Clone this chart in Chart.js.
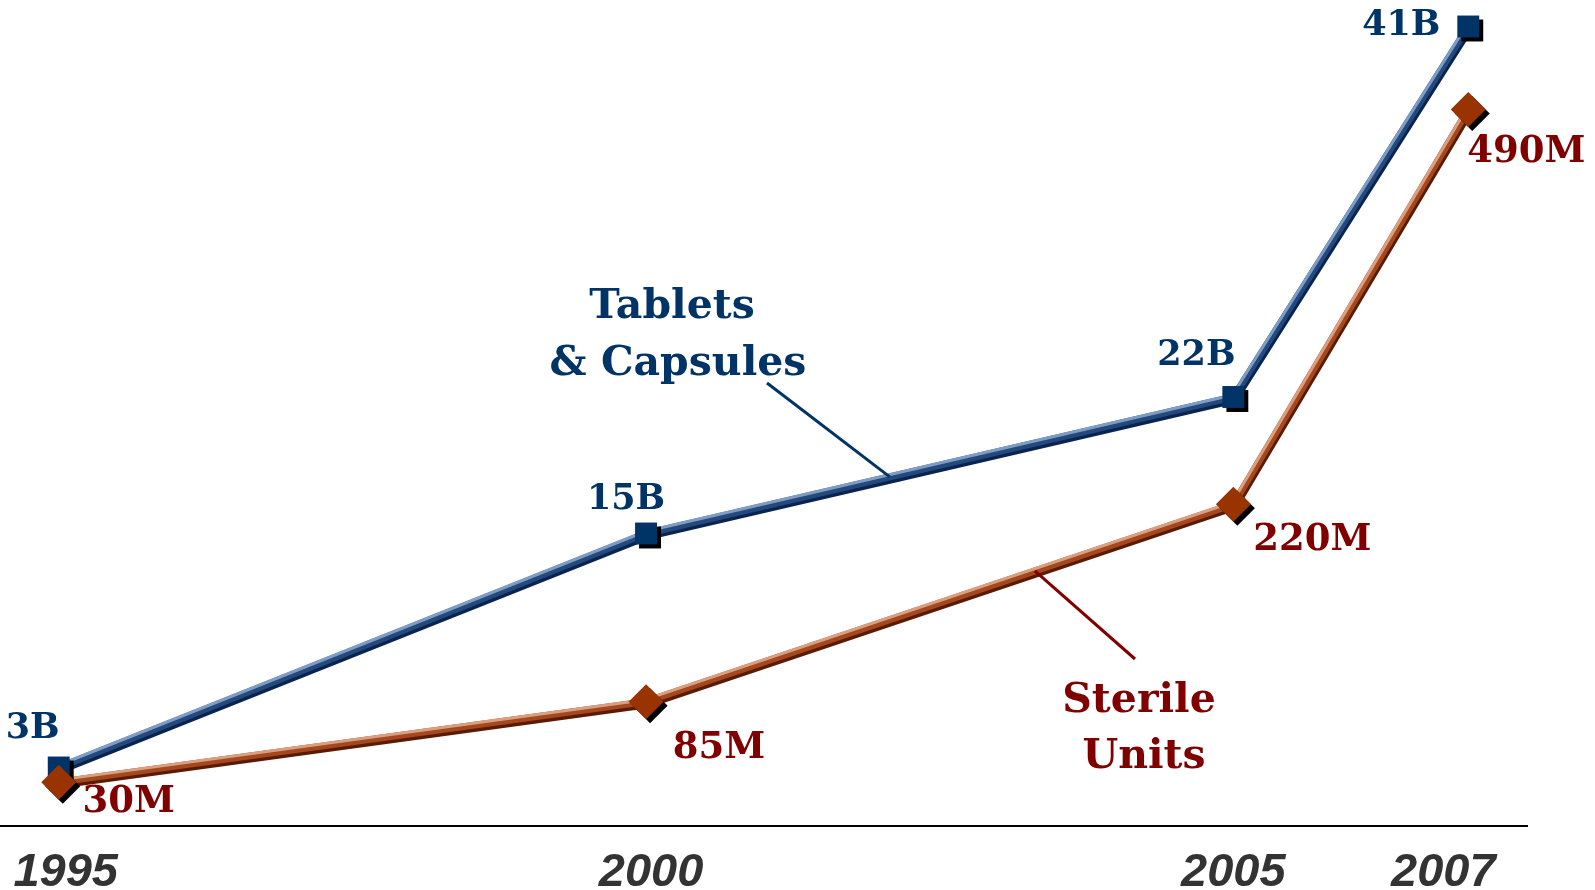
<!DOCTYPE html>
<html>
<head>
<meta charset="utf-8">
<title>Units produced, 1995-2007</title>
<script src="https://cdn.jsdelivr.net/npm/chart.js@4.4.1/dist/chart.umd.min.js"></script>
<style>
    html, body { margin: 0; padding: 0; background: #ffffff; }
    #wrap { position: relative; width: 1595px; height: 890px; }
</style>
</head>
<body>
<div id="wrap"><canvas id="units_chart"></canvas></div>
<script>
    "use strict";

    // values
    var years = [1995, 2000, 2005, 2007];
    var year_labels = ["1995", "2000", "2005", "2007"];
    var tablets_b = [3, 15, 22, 41];   // billions
    var sterile_m = [30, 85, 220, 490]; // millions

    var tablets_text = tablets_b.map(function (v) { return v + "B"; });
    var sterile_text = sterile_m.map(function (v) { return v + "M"; });

    // look
    var NAVY = "#003366";
    var MAROON = "#800000";
    var TABLETS_RELIEF = { dark: "#0a2450", mid: "#24497c", light: "#7f9cc4" };
    var STERILE_RELIEF = { dark: "#5a1a03", mid: "#a4481e", light: "#d99f80" };
    var SERIF = "'DejaVu Serif', 'Liberation Serif', serif";

    // label placement, relative to each point: [dx, baseline dy]
    var tablets_offsets = [[-26, -30], [-20, -25], [-37, -32], [-67, 8]];
    var sterile_offsets = [[70, 30], [73, 56], [79, 46], [58, 53]];
    var year_nudge = [7, 5, 0, -25];

    var callouts = [
        {
            dataset: 0, lines: ["Tablets", "& Capsules"], color: NAVY,
            centers: [672, 678], baselines: [318, 375],
            from: [767, 383], segment: 1, t: 0.415
        },
        {
            dataset: 1, lines: ["Sterile", "Units"], color: MAROON,
            centers: [1139, 1144], baselines: [712, 768],
            from: [1135, 659], segment: 1, t: 0.662
        }
    ];

    function toPoints(values) {
        return values.map(function (v, i) { return { x: years[i], y: v }; });
    }

    function strokeOffset(ctx, meta, color, width, dx, dy) {
        var pts = meta.data;
        ctx.save();
        ctx.strokeStyle = color;
        ctx.lineWidth = width;
        ctx.lineJoin = "round";
        ctx.lineCap = "butt";
        ctx.beginPath();
        for (var i = 0; i < pts.length; i++) {
            if (i === 0) {
                ctx.moveTo(pts[i].x + dx, pts[i].y + dy);
            } else {
                ctx.lineTo(pts[i].x + dx, pts[i].y + dy);
            }
        }
        ctx.stroke();
        ctx.restore();
    }

    // bevelled look for the lines, drop shadow for the markers
    var reliefPlugin = {
        id: "relief",
        beforeDatasetDraw: function (chart, args) {
            var ds = chart.data.datasets[args.index];
            var ctx = chart.ctx;
            if (ds.relief) {
                strokeOffset(ctx, args.meta, ds.relief.dark, 7, 1.5, 3);
            }
            if (ds.dropShadow) {
                ctx.save();
                ctx.shadowColor = "#000000";
                ctx.shadowOffsetX = 4;
                ctx.shadowOffsetY = 4;
                ctx.shadowBlur = 0;
            }
        },
        afterDatasetDraw: function (chart, args) {
            var ds = chart.data.datasets[args.index];
            var ctx = chart.ctx;
            if (ds.relief) {
                strokeOffset(ctx, args.meta, ds.relief.light, 3, -1, -2);
            }
            if (ds.dropShadow) {
                ctx.restore();
            }
        }
    };

    var textPlugin = {
        id: "texts",
        afterDraw: function (chart) {
            var ctx = chart.ctx;
            var xScale = chart.scales.x;
            ctx.save();

            // year labels under the axis
            ctx.font = "italic bold 47px 'Liberation Sans', Arial, sans-serif";
            ctx.fillStyle = "#333333";
            ctx.textAlign = "center";
            ctx.textBaseline = "alphabetic";
            year_labels.forEach(function (label, i) {
                ctx.fillText(label, xScale.getPixelForValue(years[i]) + year_nudge[i], 886);
            });

            // value labels next to the markers
            var tMeta = chart.getDatasetMeta(0);
            var sMeta = chart.getDatasetMeta(1);
            ctx.font = "bold 35px " + SERIF;
            ctx.fillStyle = NAVY;
            tablets_text.forEach(function (txt, i) {
                var p = tMeta.data[i];
                ctx.fillText(txt, p.x + tablets_offsets[i][0], p.y + tablets_offsets[i][1]);
            });
            ctx.font = "bold 37px " + SERIF;
            ctx.fillStyle = MAROON;
            sterile_text.forEach(function (txt, i) {
                var p = sMeta.data[i];
                ctx.fillText(txt, p.x + sterile_offsets[i][0], p.y + sterile_offsets[i][1]);
            });

            // series names with leader lines onto their line
            callouts.forEach(function (c) {
                var pts = chart.getDatasetMeta(c.dataset).data;
                var a = pts[c.segment];
                var b = pts[c.segment + 1];
                var tx = a.x + (b.x - a.x) * c.t;
                var ty = a.y + (b.y - a.y) * c.t;
                ctx.strokeStyle = c.color;
                ctx.lineWidth = 3;
                ctx.beginPath();
                ctx.moveTo(c.from[0], c.from[1]);
                ctx.lineTo(tx, ty);
                ctx.stroke();

                ctx.font = "bold 41px " + SERIF;
                ctx.fillStyle = c.color;
                c.lines.forEach(function (line, i) {
                    ctx.fillText(line, c.centers[i], c.baselines[i]);
                });
            });

            ctx.restore();
        }
    };

    var lineDefaults = {
        showLine: true,
        borderWidth: 7,
        pointRadius: 0,
        pointHoverRadius: 0,
        tension: 0,
        clip: false,
        order: 3
    };

    var markerDefaults = {
        showLine: false,
        pointBorderWidth: 0,
        pointHoverRadius: 0,
        clip: false,
        dropShadow: true
    };

    // higher order is painted first: lines, then squares, then diamonds on top
    var datasets = [
        Object.assign({}, lineDefaults, {
            label: "Tablets & Capsules",
            data: toPoints(tablets_b),
            yAxisID: "yB",
            borderColor: TABLETS_RELIEF.mid,
            relief: TABLETS_RELIEF
        }),
        Object.assign({}, lineDefaults, {
            label: "Sterile Units",
            data: toPoints(sterile_m),
            yAxisID: "yM",
            borderColor: STERILE_RELIEF.mid,
            relief: STERILE_RELIEF
        }),
        Object.assign({}, markerDefaults, {
            label: "Tablets & Capsules markers",
            data: toPoints(tablets_b),
            yAxisID: "yB",
            pointStyle: "rect",
            pointRadius: 15.5,
            pointBackgroundColor: NAVY,
            borderColor: NAVY,
            order: 2
        }),
        Object.assign({}, markerDefaults, {
            label: "Sterile Units markers",
            data: toPoints(sterile_m),
            yAxisID: "yM",
            pointStyle: "rectRot",
            pointRadius: 17.5,
            pointBackgroundColor: "#993300",
            borderColor: "#993300",
            order: 1
        })
    ];

    new Chart(document.getElementById("units_chart"), {
        type: "line",
        data: { datasets: datasets },
        options: {
            responsive: true,
            maintainAspectRatio: false,
            animation: false,
            events: [],
            layout: {
                autoPadding: false,
                padding: { top: 7, right: 68, bottom: 64, left: 0 }
            },
            plugins: {
                legend: { display: false },
                tooltip: { enabled: false }
            },
            scales: {
                x: {
                    type: "linear",
                    min: 1994.5,
                    max: 2007.5,
                    grid: { display: false, drawTicks: false },
                    ticks: { display: false },
                    border: { display: true, color: "#000000", width: 2 }
                },
                yB: {
                    type: "linear",
                    display: false,
                    min: 0,
                    max: 42
                },
                yM: {
                    type: "linear",
                    display: false,
                    min: 0,
                    max: 560
                }
            }
        },
        plugins: [reliefPlugin, textPlugin]
    });
</script>
</body>
</html>
